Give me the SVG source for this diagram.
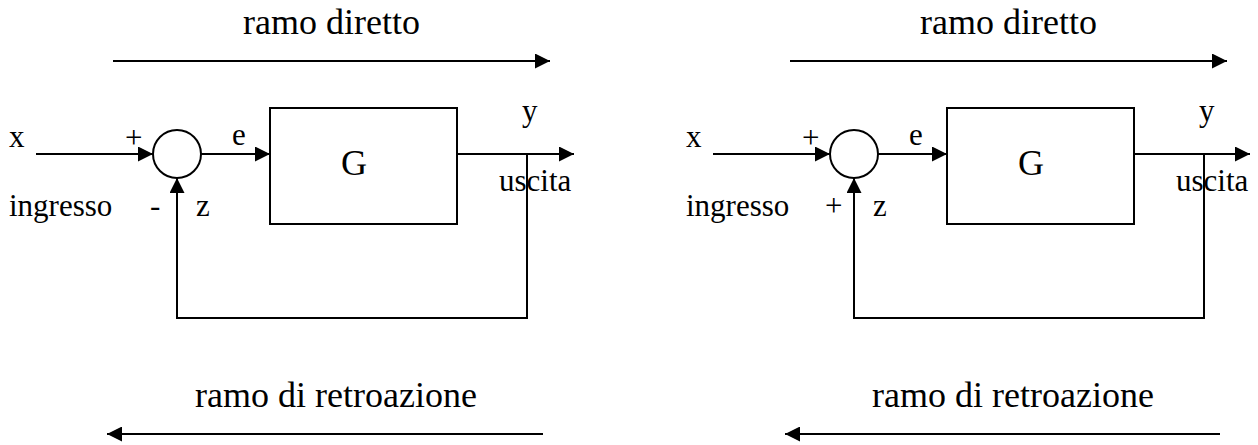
<svg xmlns="http://www.w3.org/2000/svg" width="1258" height="445" viewBox="0 0 1258 445">
<style>
.ln{fill:none;stroke:#000;stroke-width:2}
.bx{fill:#fff;stroke:#000;stroke-width:2}
.t{font-family:"Liberation Serif","Times New Roman",serif;fill:#000}
.lb{font-size:31px}
.ti{font-size:36px}
</style>
<defs>
<marker id="ah" viewBox="0 0 15 15" refX="15" refY="7.5" markerWidth="15" markerHeight="15" markerUnits="userSpaceOnUse" orient="auto">
<path d="M0,0 L15,7.5 L0,15 z" fill="#000"/>
</marker>
</defs>
<rect width="1258" height="445" fill="#fff"/>

<g id="connectors">
<line class="ln" x1="113" y1="61" x2="550" y2="61" marker-end="url(#ah)"/>
<line class="ln" x1="543" y1="434" x2="107" y2="434" marker-end="url(#ah)"/>
<line class="ln" x1="36" y1="154" x2="153" y2="154" marker-end="url(#ah)"/>
<line class="ln" x1="201" y1="154" x2="270" y2="154" marker-end="url(#ah)"/>
<line class="ln" x1="457" y1="154" x2="574" y2="154" marker-end="url(#ah)"/>
<polyline class="ln" points="527,154 527,318 177,318 177,178" marker-end="url(#ah)"/>

<line class="ln" x1="790" y1="61" x2="1227" y2="61" marker-end="url(#ah)"/>
<line class="ln" x1="1220" y1="434" x2="785" y2="434" marker-end="url(#ah)"/>
<line class="ln" x1="713" y1="154" x2="830" y2="154" marker-end="url(#ah)"/>
<line class="ln" x1="878" y1="154" x2="947" y2="154" marker-end="url(#ah)"/>
<line class="ln" x1="1134" y1="154" x2="1250" y2="154" marker-end="url(#ah)"/>
<polyline class="ln" points="1204,154 1204,318 854,318 854,178" marker-end="url(#ah)"/>
</g>

<g id="labels-left">
<text class="t ti" x="243" y="34">ramo diretto</text>
<text class="t ti" x="195" y="407">ramo di retroazione</text>
<text class="t lb" x="9" y="147">x</text>
<text class="t lb" x="125" y="148">+</text>
<text class="t lb" x="232" y="145">e</text>
<text class="t lb" x="9" y="216">ingresso</text>
<text class="t lb" x="150" y="216">-</text>
<text class="t lb" x="196" y="216">z</text>
<text class="t lb" x="522" y="121">y</text>
<text class="t lb" x="499" y="191">uscita</text>
</g>

<g id="sum-left">
<circle class="bx" cx="177" cy="154" r="24"/>
</g>
<g id="block-G-left">
<rect class="bx" x="270" y="108" width="187" height="116"/>
<text class="t ti" x="341" y="175">G</text>
</g>

<g id="labels-right">
<text class="t ti" x="920" y="34">ramo diretto</text>
<text class="t ti" x="872" y="407">ramo di retroazione</text>
<text class="t lb" x="686" y="147">x</text>
<text class="t lb" x="802" y="148">+</text>
<text class="t lb" x="909" y="145">e</text>
<text class="t lb" x="686" y="216">ingresso</text>
<text class="t lb" x="825" y="216">+</text>
<text class="t lb" x="873" y="216">z</text>
<text class="t lb" x="1199" y="121">y</text>
<text class="t lb" x="1176" y="191">uscita</text>
</g>

<g id="sum-right">
<circle class="bx" cx="854" cy="154" r="24"/>
</g>
<g id="block-G-right">
<rect class="bx" x="947" y="108" width="187" height="116"/>
<text class="t ti" x="1018" y="175">G</text>
</g>
</svg>
